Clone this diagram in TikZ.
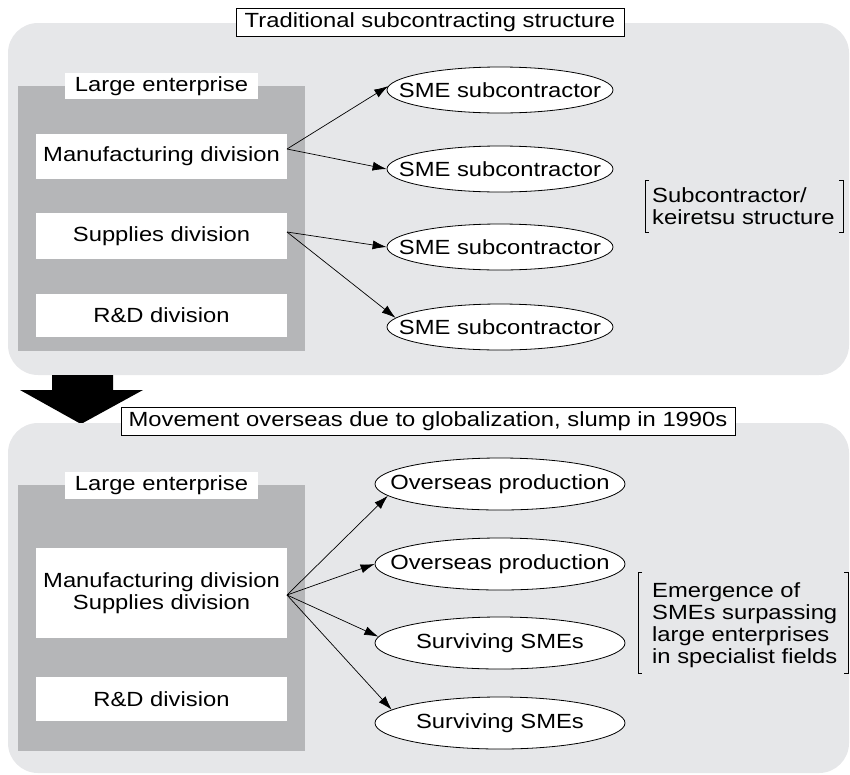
\documentclass[tikz,border=0pt]{standalone}
\usepackage{fontspec}
\setmainfont[FakeStretch=1.16]{Liberation Sans}
\usetikzlibrary{shapes.geometric,arrows.meta}
\definecolor{panelbg}{HTML}{E6E7E9}
\definecolor{entbg}{HTML}{B5B6B8}
\begin{document}
\begin{tikzpicture}[x=1pt,y=-1pt,
  every node/.style={font=\fontsize{20.5}{22}\selectfont, inner sep=0pt},
  panel/.style={fill=panelbg, rounded corners=30pt},
  entbox/.style={fill=entbg, minimum width=287pt},
  whitebox/.style={fill=white, minimum width=251pt, align=center},
  labelbox/.style={fill=white, minimum width=193pt, minimum height=26pt},
  titlebox/.style={draw, fill=white, line width=0.8pt, minimum height=28pt},
  oval/.style={ellipse, draw, fill=white, line width=0.8pt},
  arr/.style={line width=0.7pt, -{Latex[length=14pt,width=9pt]}},
  brk/.style={line width=0.8pt},
  note/.style={anchor=west, align=left}
]
\useasboundingbox (0,0) rectangle (850,774);

% ---------- top panel ----------
\fill[panel] (8,23) rectangle (849,375);
\node[titlebox, minimum width=388pt] (t1) at (430,22) {Traditional subcontracting structure};

\node[entbox, minimum height=265pt] (ent1) at (161.5,218.5) {};
\node[labelbox] (lab1) at (161.5,86) {Large enterprise};
\node[whitebox, minimum height=45pt] (mfg1) at (161.5,156.5) {Manufacturing division};
\node[whitebox, minimum height=46pt] (sup1) at (161.5,236) {Supplies division};
\node[whitebox, minimum height=43pt] (rd1) at (161.5,315.5) {R\&D division};

\foreach \i/\y in {1/90,2/169,3/247,4/327}
  \node[oval, minimum width=226pt, minimum height=46pt] (s\i) at (500,\y) {\makebox[0pt]{SME subcontractor}};

\coordinate (om) at (287,149);
\coordinate (os) at (287,232);
\draw[arr] (om) -- (s1.178);
\draw[arr] (om) -- (s2.west);
\draw[arr] (os) -- (s3.west);
\draw[arr] (os) -- (s4.175);

\draw[brk] (649,180) -- (645,180) -- (645,232) -- (649,232);
\draw[brk] (839,180) -- (843,180) -- (843,232) -- (839,232);
\node[note] (n1) at (652,206) {Subcontractor/\\keiretsu structure};

% ---------- big arrow ----------
\fill (52,375) -- (113,375) -- (113,390) -- (143,390) -- (81,424) -- (20,390) -- (52,390) -- cycle;

% ---------- bottom panel ----------
\fill[panel] (8,423) rectangle (849,773);
\node[titlebox, minimum width=614pt] (t2) at (428,421.5) {Movement overseas due to globalization, slump in 1990s};

\node[entbox, minimum height=266pt] (ent2) at (161.5,618) {};
\node[labelbox, minimum height=27pt] (lab2) at (161.5,485.5) {Large enterprise};
\node[whitebox, minimum height=90pt] (ms2) at (161.5,593) {Manufacturing division\\Supplies division};
\node[whitebox, minimum height=44pt] (rd2) at (161.5,699) {R\&D division};

\node[oval, minimum width=250pt, minimum height=52pt] (e1) at (500,484) {\makebox[0pt]{Overseas production}};
\node[oval, minimum width=250pt, minimum height=52pt] (e2) at (500,564) {\makebox[0pt]{Overseas production}};
\node[oval, minimum width=250pt, minimum height=52pt] (e3) at (500,643) {\makebox[0pt]{Surviving SMEs}};
\node[oval, minimum width=250pt, minimum height=52pt] (e4) at (500,723) {\makebox[0pt]{Surviving SMEs}};

\coordinate (ob) at (287,595);
\draw[arr] (ob) -- (e1.186);
\draw[arr] (ob) -- (e2.west);
\draw[arr] (ob) -- (e3.177);
\draw[arr] (ob) -- (e4.173);

\draw[brk] (642,572) -- (638,572) -- (638,673) -- (642,673);
\draw[brk] (844,572) -- (848,572) -- (848,673) -- (844,673);
\node[note] (n2) at (652,625) {Emergence of\\SMEs surpassing\\large enterprises\\in specialist fields};
\end{tikzpicture}
\end{document}
